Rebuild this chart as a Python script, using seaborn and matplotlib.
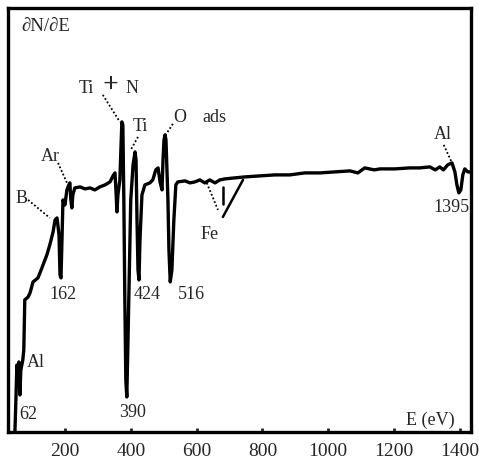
import seaborn as sns
import numpy as np
import pandas as pd
import matplotlib
matplotlib.use("Agg")
import matplotlib.pyplot as plt

# Auger spectrum dN/dE (arbitrary intensity units)
energy = [48, 51, 54, 57, 60, 63, 66, 72, 75, 78, 88, 94, 103, 118, 130, 145, 154, 164,
          170, 176, 182, 185, 188, 191, 194, 200, 206, 212, 215, 218, 221, 224, 230, 246,
          261, 276, 291, 306, 322, 337, 346, 352, 355, 358, 361, 367, 370, 373, 376, 379,
          382, 385, 388, 391, 394, 397, 400, 407, 413, 416, 419, 422, 425, 428, 434, 443,
          458, 467, 476, 483, 489, 495, 498, 501, 504, 507, 513, 516, 520, 525, 531, 537,
          543, 565, 580, 595, 610, 625, 640, 656, 671, 686, 716, 747, 792, 838, 883, 929,
          975, 1020, 1066, 1090, 1111, 1140, 1157, 1202, 1248, 1278, 1309, 1325, 1339,
          1350, 1363, 1376, 1385, 1391, 1397, 1403, 1409, 1415, 1424, 1436]
signal = [0, 32, 67, 52, 70, 37, 62, 72, 82, 132, 135, 139, 150, 154, 164, 177, 187, 200,
          212, 214, 197, 157, 154, 192, 232, 227, 242, 247, 249, 232, 224, 237, 244, 245,
          243, 244, 242, 245, 247, 250, 256, 259, 242, 220, 237, 252, 282, 310, 307, 232,
          132, 52, 35, 82, 132, 182, 232, 267, 280, 272, 212, 162, 152, 192, 237, 247,
          249, 252, 262, 264, 250, 242, 272, 292, 297, 292, 232, 182, 150, 162, 212, 247,
          250, 251, 249, 250, 252, 249, 252, 249, 252, 253, 254, 255, 256, 257, 257, 259,
          259, 260, 261, 259, 264, 262, 263, 263, 264, 264, 265, 262, 265,
          262, 267, 269, 260, 247, 239, 242, 257, 263, 260, 260]

xticks = [200, 400, 600, 800, 1000, 1200, 1400]

df = pd.DataFrame({"E": energy, "dNdE": signal})

sns.set_style("white")
plt.rcParams["font.family"] = ["Liberation Serif", "DejaVu Serif"]

fig = plt.figure(figsize=(4.79, 4.62), dpi=100)
ax = fig.add_axes([0.0167, 0.065, 0.966, 0.918])
sns.lineplot(data=df, x="E", y="dNdE", ax=ax, color="black", linewidth=2.4, sort=False)

ax.set_xlim(27, 1433)
ax.set_ylim(0, 424)
ax.set_xticks(xticks)
ax.set_yticks([])
ax.set_xlabel("")
ax.set_ylabel("")
ax.tick_params(axis="x", direction="in", length=3, width=2, labelsize=14, pad=8, bottom=True)
for s in ax.spines.values():
    s.set_linewidth(2.4)
    s.set_color("black")

fs = 13
ax.text(69, 405, "\u2202N/\u2202E", fontsize=13.5, ha="left", va="center")
ax.text(1309, 12, "E (eV)", fontsize=fs, ha="center", va="center")

labels = [("Ti", 264, 343), ("N", 404, 343), ("Ti", 428, 305), ("O", 549, 314),
          ("ads", 653, 314), ("Ar", 157, 275), ("B", 69, 233), ("Fe", 640, 197),
          ("162", 194, 137), ("390", 407, 19), ("424", 449, 137), ("516", 583, 137),
          ("Al", 112, 69), ("62", 88, 17), ("Al", 1348, 297), ("1395", 1376, 224)]
for t, x, y in labels:
    ax.text(x, y, t, fontsize=fs, ha="center", va="center")
ax.text(337, 346, "+", fontsize=20, fontweight="bold", ha="center", va="center")

dotted = [((315, 337), (367, 310)), ((422, 295), (400, 282)), ((528, 308), (504, 296)),
          ((179, 269), (209, 247)), ((88, 232), (154, 214)), ((631, 249), (665, 222)),
          ((1351, 287), (1376, 269))]
for (x0, y0), (x1, y1) in dotted:
    ax.plot([x0, x1], [y0, y1], color="black", linestyle=(0, (1, 1.2)), linewidth=1.3)
ax.plot([680, 680], [245, 228], color="black", linewidth=1.8)
ax.plot([680, 741], [215, 252], color="black", linewidth=1.8)

fig.savefig("out.png", dpi=100)
